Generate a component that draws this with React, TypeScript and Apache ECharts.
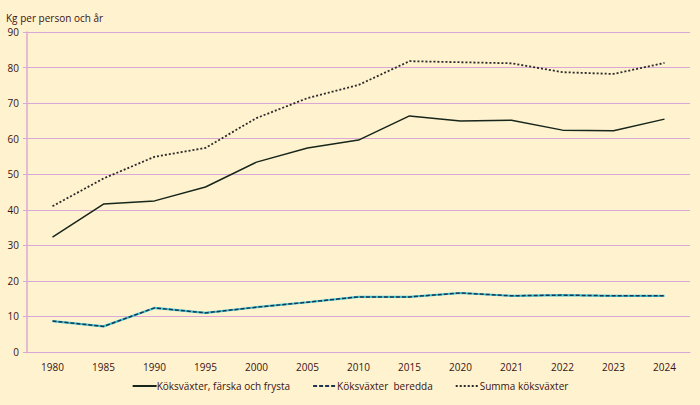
import React, { useEffect, useRef } from "react";
import * as echarts from "echarts";

const years = ["1980", "1985", "1990", "1995", "2000", "2005", "2010", "2015", "2020", "2021", "2022", "2023", "2024"];
const farskaFrysta = [32.3, 41.6, 42.5, 46.4, 53.4, 57.4, 59.6, 66.4, 65.0, 65.2, 62.4, 62.2, 65.5];
const beredda = [8.7, 7.2, 12.4, 11.0, 12.6, 14.0, 15.5, 15.5, 16.6, 15.8, 16.0, 15.8, 15.8];
const summa = [41.0, 48.8, 54.9, 57.4, 65.8, 71.4, 75.1, 81.8, 81.5, 81.2, 78.7, 78.2, 81.3];

const textColor = "#3a1212";
const gridColor = "#dba7d6";
const font = "'Open Sans', 'Noto Sans', sans-serif";

export default function App() {
  const ref = useRef<HTMLDivElement>(null);
  useEffect(() => {
    document.body.style.margin = "0";
    const chart = echarts.init(ref.current!, null, { renderer: "svg" });
    chart.setOption({
      animation: false,
      backgroundColor: "#fff2cf",
      textStyle: { fontFamily: font, color: textColor },
      title: {
        text: "Kg per person och år",
        left: 1,
        top: 8,
        textStyle: { fontSize: 10, fontWeight: "normal", color: textColor, fontFamily: font },
      },
      grid: { left: 27, right: 10, top: 32, bottom: 53 },
      legend: {
        bottom: 9,
        left: "center",
        itemWidth: 24,
        itemHeight: 10,
        itemGap: 22,
        itemStyle: { opacity: 0 },
        textStyle: { fontSize: 10, color: textColor, fontFamily: font, padding: [0, 0, 0, -5] },
        data: ["Köksväxter, färska och frysta", "Köksväxter  beredda", "Summa köksväxter"],
      },
      xAxis: {
        type: "category",
        data: years,
        boundaryGap: true,
        axisLine: { lineStyle: { color: gridColor, width: 1 } },
        axisTick: { show: false },
        axisLabel: { fontSize: 10, color: textColor, margin: 10, fontFamily: font },
      },
      yAxis: {
        type: "value",
        min: 0,
        max: 90,
        interval: 10,
        axisLine: { show: true, lineStyle: { color: gridColor, width: 1.5 } },
        axisTick: { show: true, length: 4, lineStyle: { color: gridColor } },
        splitLine: { lineStyle: { color: gridColor, width: 1 } },
        axisLabel: { fontSize: 10, color: textColor, margin: 8, fontFamily: font },
      },
      series: [
        {
          name: "Köksväxter, färska och frysta",
          type: "line",
          data: farskaFrysta,
          symbol: "none",
          lineStyle: { color: "#17261a", width: 1.5, type: "solid" },
          itemStyle: { color: "#17261a" },
        },
        {
          name: "beredda-underlay",
          type: "line",
          data: beredda,
          symbol: "none",
          silent: true,
          lineStyle: { color: "#3cc4d4", width: 2.2, type: "solid" },
          itemStyle: { color: "#3cc4d4" },
        },
        {
          name: "Köksväxter  beredda",
          type: "line",
          data: beredda,
          symbol: "none",
          lineStyle: { color: "#1d3550", width: 1.5, type: [4, 2] },
          itemStyle: { color: "#1d3550" },
        },
        {
          name: "Summa köksväxter",
          type: "line",
          data: summa,
          symbol: "none",
          lineStyle: { color: "#2a2a2a", width: 1.8, type: [2, 2] },
          itemStyle: { color: "#2a2a2a" },
        },
      ],
    });
    return () => chart.dispose();
  }, []);
  return <div ref={ref} style={{ width: 700, height: 405 }} />;
}
